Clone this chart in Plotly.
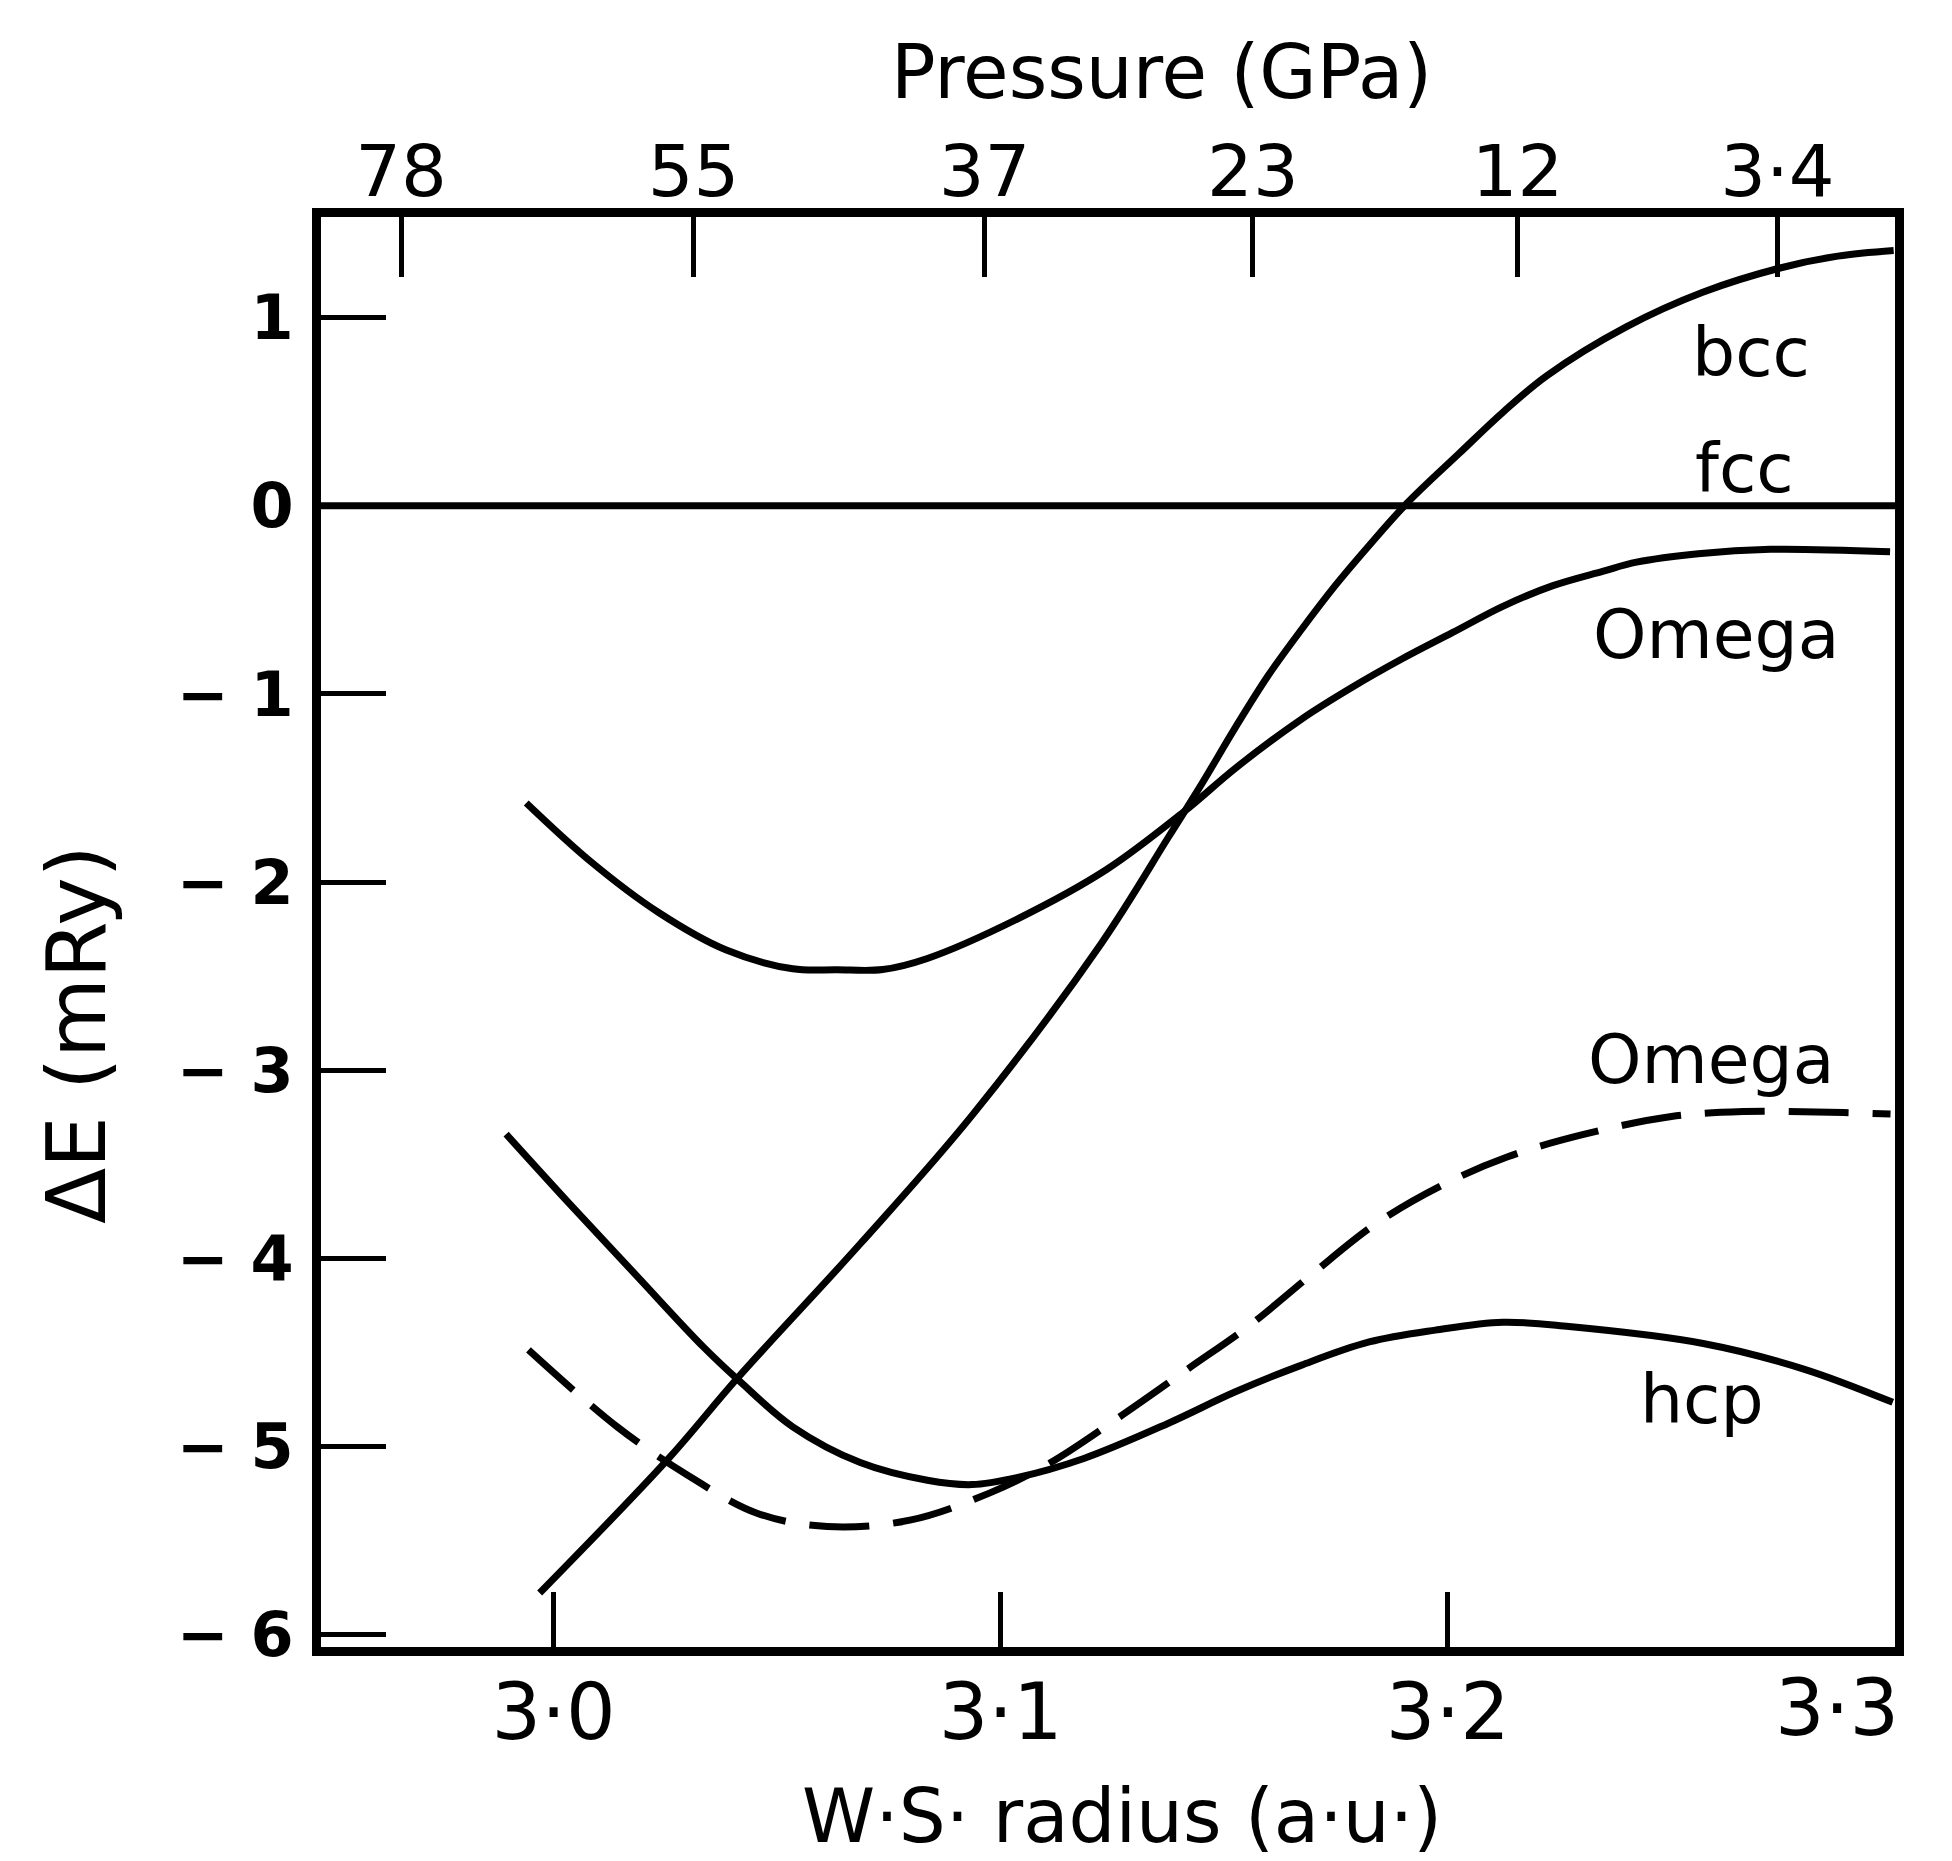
import plotly.graph_objects as go

# ---------------- data ----------------
# bottom axis: Wigner-Seitz radius (a.u.)
radius_ticks = [3.0, 3.1, 3.2, 3.3]
radius_labels = ["3·0", "3·1", "3·2", "3·3"]
# top axis: pressure (GPa) marks, placed at their W.S. radius
pressure_tick_radius = [2.9659, 3.0313, 3.0964, 3.1564, 3.2156, 3.2737]
pressure_labels = ["78", "55", "37", "23", "12", "3·4"]
# left axis: energy difference (mRy)
de_ticks = [1, 0, -1, -2, -3, -4, -5, -6]
de_labels = ["1", "0", "− 1", "− 2", "− 3", "− 4", "− 5", "− 6"]

fcc_r = [2.948, 3.3]
fcc_e = [0.0, 0.0]

bcc_r = [2.9969, 3.0257, 3.0411, 3.0685, 3.0936, 3.1225, 3.1375, 3.1449, 3.1524,
         3.1599, 3.1674, 3.1748, 3.1823, 3.1909, 3.2025, 3.2123, 3.2221, 3.2399,
         3.2570, 3.2743, 3.2872, 3.2997]
bcc_e = [-5.778, -5.064, -4.637, -3.925, -3.240, -2.326, -1.762, -1.481, -1.182,
         -0.900, -0.654, -0.425, -0.214, 0.014, 0.277, 0.496, 0.690, 0.950,
         1.134, 1.263, 1.326, 1.356]

omega1_r = [2.9939, 3.0084, 3.0235, 3.0385, 3.0535, 3.0634, 3.0736, 3.0836, 3.1036,
            3.1236, 3.1411, 3.1525, 3.1673, 3.1786, 3.1897, 3.2010, 3.2123, 3.2235,
            3.2346, 3.2422, 3.2560, 3.2721, 3.2989]
omega1_e = [-1.580, -1.893, -2.162, -2.360, -2.461, -2.466, -2.465, -2.406, -2.198,
            -1.935, -1.624, -1.395, -1.134, -0.965, -0.815, -0.675, -0.535, -0.425,
            -0.349, -0.300, -0.255, -0.232, -0.245]

omega2_r = [2.9944, 3.0144, 3.0300, 3.0455, 3.0612, 3.0797, 3.0976, 3.1111, 3.1274,
            3.1419, 3.1559, 3.1693, 3.1841, 3.1995, 3.2134, 3.2299, 3.2500, 3.2661,
            3.2885, 3.2990]
omega2_e = [-4.486, -4.898, -5.152, -5.354, -5.425, -5.391, -5.246, -5.086, -4.829,
            -4.587, -4.352, -4.090, -3.813, -3.602, -3.460, -3.344, -3.246, -3.220,
            -3.225, -3.233]

hcp_r = [2.9894, 3.0035, 3.0185, 3.0335, 3.0415, 3.0535, 3.0686, 3.0836, 3.0936,
         3.1036, 3.1186, 3.1374, 3.1525, 3.1673, 3.1824, 3.1972, 3.2123, 3.2271,
         3.2571, 3.2796, 3.2995]
hcp_e = [-3.340, -3.708, -4.090, -4.470, -4.650, -4.895, -5.085, -5.179, -5.202,
         -5.165, -5.063, -4.877, -4.709, -4.567, -4.444, -4.381, -4.339, -4.362,
         -4.452, -4.588, -4.765]

curve_names = ["bcc", "fcc", "Omega", "Omega", "hcp"]
curve_label_r = [3.2679, 3.2663, 3.2599, 3.2588, 3.2568]
curve_label_e = [0.814, 0.20, -0.687, -2.944, -4.749]

x_title = "W·S· radius (a·u·)"
top_title = "Pressure (GPa)"
y_title = "ΔE (mRy)"

# ---------------- figure ----------------
FONT = "DejaVu Sans"
INK = "black"
X_RANGE = [2.948, 3.3]
Y_RANGE = [-6.065, 1.534]
LW = 7

fig = go.Figure()

solid = dict(color=INK, width=LW, shape="spline", smoothing=1.0)
dashed = dict(color=INK, width=LW, shape="spline", smoothing=1.0, dash="60px,24px")

fig.add_trace(go.Scatter(x=fcc_r, y=fcc_e, mode="lines", line=dict(color=INK, width=LW),
                         xaxis="x2", hoverinfo="skip"))
fig.add_trace(go.Scatter(x=bcc_r, y=bcc_e, mode="lines", line=solid, hoverinfo="skip"))
fig.add_trace(go.Scatter(x=omega1_r, y=omega1_e, mode="lines", line=solid, hoverinfo="skip"))
fig.add_trace(go.Scatter(x=omega2_r, y=omega2_e, mode="lines", line=dashed, hoverinfo="skip"))
fig.add_trace(go.Scatter(x=hcp_r, y=hcp_e, mode="lines", line=solid, hoverinfo="skip"))

annotations = []
for name, r, e in zip(curve_names, curve_label_r, curve_label_e):
    annotations.append(dict(x=r, y=e, xref="x", yref="y", text=name, showarrow=False,
                            xanchor="center", yanchor="middle",
                            font=dict(family=FONT, size=68, color=INK)))

# last radius label sits inside the right end of the axis, as in the original
annotations.append(dict(x=radius_ticks[-1], y=0, xref="x", yref="paper",
                        text=radius_labels[-1], showarrow=False,
                        xanchor="right", yanchor="top", xshift=6, yshift=-14,
                        font=dict(family=FONT, size=78, color=INK)))

annotations.append(dict(x=0.5337, y=1.1014, xref="paper", yref="paper", text=top_title,
                        showarrow=False, xanchor="center", yanchor="middle",
                        font=dict(family=FONT, size=74, color=INK)))
annotations.append(dict(x=0.509, y=-0.1185, xref="paper", yref="paper", text=x_title,
                        showarrow=False, xanchor="center", yanchor="middle",
                        font=dict(family=FONT, size=74, color=INK)))
annotations.append(dict(x=-0.155, y=0.428, xref="paper", yref="paper", text=y_title,
                        showarrow=False, xanchor="center", yanchor="middle", textangle=-90,
                        font=dict(family=FONT, size=82, color=INK)))

axis_common = dict(showgrid=False, zeroline=False, showline=True, linecolor=INK,
                   linewidth=9, ticks="inside", tickcolor=INK, tickwidth=5)

bottom_text = radius_labels[:-1] + [""]

fig.update_layout(
    width=1952, height=1861,
    margin=dict(l=321, r=57, t=217, b=214, pad=0),
    paper_bgcolor="white", plot_bgcolor="white",
    showlegend=False,
    xaxis=dict(range=X_RANGE, tickvals=radius_ticks, ticktext=bottom_text,
               ticklen=55, mirror=True, ticklabelstandoff=-11,
               tickfont=dict(family=FONT, size=78, color=INK), **axis_common),
    xaxis2=dict(range=X_RANGE, overlaying="x", side="top", anchor="y",
                tickvals=pressure_tick_radius, ticktext=pressure_labels,
                ticklen=60, ticklabelstandoff=-17,
                tickfont=dict(family=FONT, size=72, color=INK), **axis_common),
    yaxis=dict(range=Y_RANGE, tickvals=de_ticks, ticktext=de_labels,
               ticklen=65, mirror=True, ticklabelstandoff=6,
               tickfont=dict(family=FONT, size=62, color=INK, weight="bold"), **axis_common),
    annotations=annotations,
)

fig.write_html("out.html")
